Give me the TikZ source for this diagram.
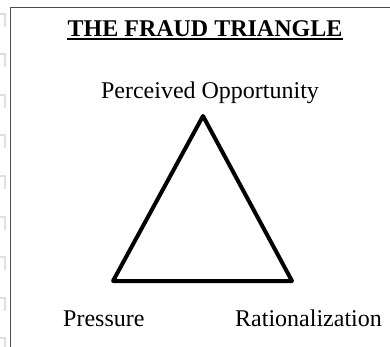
\documentclass[tikz,border=0pt]{standalone}
\usepackage{fontspec}
\setmainfont{Liberation Serif}
\begin{document}
\begin{tikzpicture}[x=1pt,y=-1pt,
  label/.style={inner sep=0pt,font=\fontsize{24}{28}\selectfont},
  frame/.style={draw=black!70,line width=1.3pt},
  tick/.style={draw=black!12,line width=2pt},
  tri/.style={draw=black,line width=4pt,line join=round}]
  \useasboundingbox (0,0) rectangle (390,347);
  % faint margin marks
  \foreach \y in {14,54.5,95,135.5,176,216.5,257,297.5,338}
    \draw[tick] (0,\y) -- (5,\y) -- (5,\y+13);
  % frame (open to the right and bottom)
  \draw[frame] (10.5,347) -- (10.5,7.5) -- (390,7.5);
  % title
  \node[label,font=\fontsize{24}{28}\selectfont\bfseries,anchor=base] (title) at (205,37) {THE FRAUD TRIANGLE};
  \draw[line width=2pt] ([yshift=-2.5pt]title.base west) -- ([yshift=-2.5pt]title.base east);
  % triangle
  \coordinate (top) at (203,116);
  \coordinate (bl) at (113,281);
  \coordinate (br) at (292,281);
  \draw[tri] (top) -- (bl) -- (br) -- cycle;
  % corner labels
  \node[label,anchor=base] (opp) at (210,99) {Perceived Opportunity};
  \node[label,anchor=base west] (pres) at (63,326) {Pressure};
  \node[label,anchor=base west] (rat) at (235,326) {Rationalization};
\end{tikzpicture}
\end{document}
